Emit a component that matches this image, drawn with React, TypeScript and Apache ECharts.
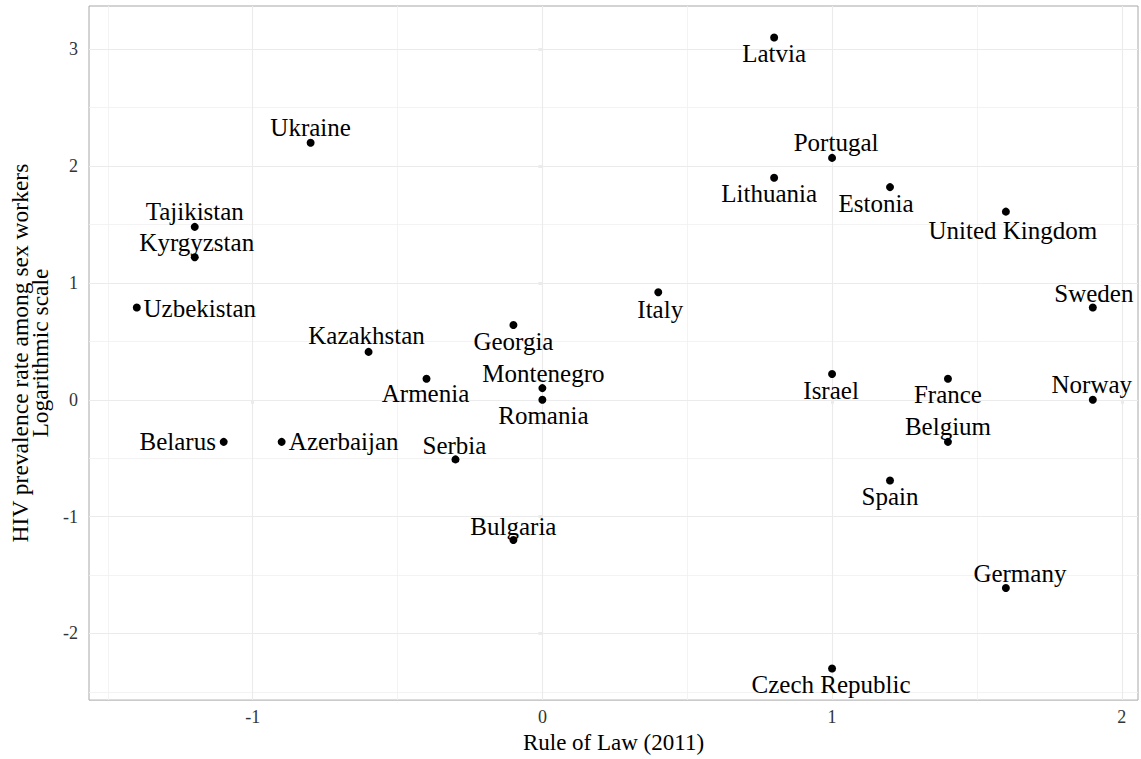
import React, { useEffect, useRef } from "react";
import * as echarts from "echarts";

// ---- data ----
const countries = [
  "Latvia", "Ukraine", "Portugal", "Lithuania", "Estonia", "United Kingdom",
  "Tajikistan", "Kyrgyzstan", "Italy", "Uzbekistan", "Sweden", "Georgia",
  "Kazakhstan", "Israel", "Armenia", "France", "Montenegro", "Romania",
  "Norway", "Belarus", "Azerbaijan", "Belgium", "Serbia", "Spain",
  "Bulgaria", "Germany", "Czech Republic",
];
const ruleOfLaw = [
  0.8, -0.8, 1.0, 0.8, 1.2, 1.6,
  -1.2, -1.2, 0.4, -1.4, 1.9, -0.1,
  -0.6, 1.0, -0.4, 1.4, 0.0, 0.0,
  1.9, -1.1, -0.9, 1.4, -0.3, 1.2,
  -0.1, 1.6, 1.0,
];
const hivLog = [
  3.10, 2.20, 2.07, 1.90, 1.82, 1.61,
  1.48, 1.22, 0.92, 0.79, 0.79, 0.64,
  0.41, 0.22, 0.18, 0.18, 0.10, 0.0,
  0.0, -0.36, -0.36, -0.36, -0.51, -0.69,
  -1.20, -1.61, -2.30,
];
// label placement (offset of each label's centre from its point, px)
const labelOffsets = [
  [0, 16], [0, -15], [4, -15], [-5, 16], [-14, 16], [7, 19],
  [0, -15], [2, -15], [2, 17], [63, 1], [1, -14], [0, 16],
  [-2, -16], [-1, 16], [-1, 15], [0, 16], [1, -15], [1, 16],
  [-1, -15], [-46, 0], [62, 0], [0, -15], [-1, -14], [0, 16],
  [0, -14], [14, -14], [-1, 16],
];

const xTicks = [-1, 0, 1, 2];
const yTicks = [-2, -1, 0, 1, 2, 3];
const xMinor = [-1.5, -0.5, 0.5, 1.5];
const yMinor = [-2.5, -1.5, -0.5, 0.5, 1.5, 2.5];
const xLimits = [-1.565, 2.056];
const yLimits = [-2.57, 3.37];

const xTitle = "Rule of Law (2011)";
const yTitle = "HIV prevalence rate among sex workers\nLogarithmic scale";

const FONT = "'Liberation Serif', 'Times New Roman', serif";

export default function App() {
  const ref = useRef<HTMLDivElement>(null);

  useEffect(() => {
    if (!ref.current) return;
    const chart = echarts.init(ref.current, undefined, { renderer: "svg" });

    const gridLineData = [
      ...xMinor.map((v) => ({ xAxis: v, lineStyle: { color: "#F0F0F0", width: 0.8, type: "solid" } })),
      ...yMinor.map((v) => ({ yAxis: v, lineStyle: { color: "#F0F0F0", width: 0.8, type: "solid" } })),
      ...xTicks.map((v) => ({ xAxis: v, lineStyle: { color: "#EBEBEB", width: 1.1, type: "solid" } })),
      ...yTicks.map((v) => ({ yAxis: v, lineStyle: { color: "#EBEBEB", width: 1.1, type: "solid" } })),
    ];

    const option: any = {
      animation: false,
      backgroundColor: "#ffffff",
      grid: {
        left: 87,
        right: 3,
        top: 6,
        bottom: 56,
        show: true,
        borderColor: "#A8A8A8",
        borderWidth: 1,
        backgroundColor: "#ffffff",
      },
      xAxis: {
        type: "value",
        min: xLimits[0],
        max: xLimits[1],
        name: xTitle,
        nameLocation: "middle",
        nameGap: 27,
        nameTextStyle: { fontFamily: FONT, fontSize: 23, color: "#000" },
        axisLine: { show: false },
        axisTick: {
          show: true,
          length: 4,
          customValues: xTicks,
          lineStyle: { color: "#333333", width: 1.2 },
        },
        axisLabel: {
          customValues: xTicks,
          fontFamily: FONT,
          fontSize: 18,
          color: "#333333",
          margin: 8,
          formatter: (v: number) => String(v),
        },
        splitLine: { show: false },
      },
      yAxis: {
        type: "value",
        min: yLimits[0],
        max: yLimits[1],
        name: yTitle,
        nameLocation: "middle",
        nameRotate: 90,
        nameGap: 39,
        nameTextStyle: { fontFamily: FONT, fontSize: 23.5, color: "#000", lineHeight: 20, align: "center" },
        axisLine: { show: false },
        axisTick: {
          show: true,
          length: 4,
          customValues: yTicks,
          lineStyle: { color: "#333333", width: 1.2 },
        },
        axisLabel: {
          customValues: yTicks,
          fontFamily: FONT,
          fontSize: 18,
          color: "#333333",
          margin: 11,
          formatter: (v: number) => String(v),
        },
        splitLine: { show: false },
      },
      series: [
        {
          type: "scatter",
          data: [],
          silent: true,
          z: 1,
          markLine: {
            silent: true,
            z: 1,
            symbol: "none",
            label: { show: false },
            data: gridLineData,
          },
        },
        {
          type: "scatter",
          z: 3,
          symbol: "circle",
          symbolSize: 8,
          itemStyle: { color: "#000000", opacity: 1 },
          label: {
            show: true,
            position: "inside",
            formatter: "{b}",
            fontFamily: FONT,
            fontSize: 25,
            color: "#000000",
            opacity: 1,
            align: "center",
            verticalAlign: "middle",
            textBorderWidth: 0,
          },
          data: countries.map((c, i) => ({
            name: c,
            value: [ruleOfLaw[i], hivLog[i]],
            label: { offset: labelOffsets[i] },
          })),
        },
      ],
    };

    chart.setOption(option);
    return () => chart.dispose();
  }, []);

  return (
    <div
      ref={ref}
      style={{ position: "absolute", left: 0, top: 0, width: 1141, height: 759, background: "#fff" }}
    />
  );
}
